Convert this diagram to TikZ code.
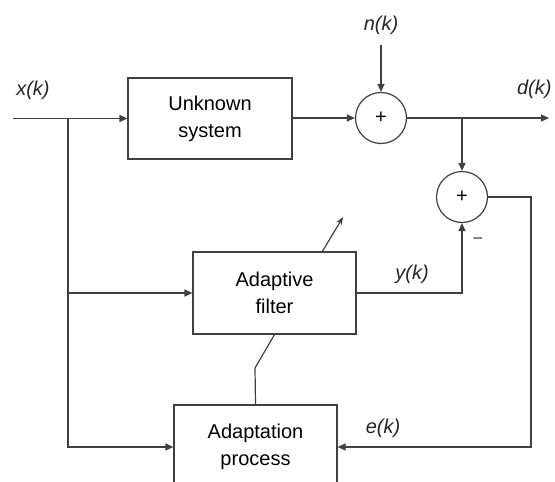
\documentclass[tikz,border=0pt]{standalone}
\usepackage{fontspec}
\setmainfont{Liberation Sans}
\usetikzlibrary{arrows.meta}
\begin{document}
\begin{tikzpicture}[x=1pt,y=-1pt,
  ln/.style={draw=black!75,line width=1.2pt},
  arr/.style={ln,-{Triangle[length=8pt,width=7pt]}},
  blk/.style={draw=black!75,line width=1.2pt,rectangle,inner sep=0pt,align=center,font=\fontsize{20}{27}\selectfont},
  sumc/.style={draw=black!75,line width=1.2pt,circle,minimum size=51pt,inner sep=0pt,font=\fontsize{20}{20}\selectfont},
  lbl/.style={font=\fontsize{20}{20}\selectfont\itshape,text=black!85}]
\useasboundingbox (0,0) rectangle (555,482);
\node[blk,minimum width=164pt,minimum height=81pt] (unk) at (210,118.5) {Unknown\\system};
\node[sumc] (s1) at (381,118) {+};
\node[sumc] (s2) at (462,197) {+};
\node[blk,minimum width=163pt,minimum height=82pt] (af) at (274.5,293) {Adaptive\\filter};
\node[blk,minimum width=163pt,minimum height=84pt] (ap) at (255.5,447) {Adaptation\\process};
\coordinate (xin) at (13,118.5);
\coordinate (b1) at (68,118.5);
\coordinate (nin) at (381,45);
\coordinate (dout) at (549,118);
\coordinate (b2) at (462,118);
\coordinate (c1) at (531,447);
\coordinate (k1) at (255,368);
\coordinate (t0) at (322,252);
\coordinate (t1) at (343,217);
\node[lbl] (xl) at (33,90) {x(k)};
\node[lbl] (nl) at (381,25) {n(k)};
\node[lbl,anchor=east] (dl) at (555,89) {d(k)};
\node[lbl] (yl) at (412,274) {y(k)};
\node[lbl] (el) at (383,428) {e(k)};
\node[font=\fontsize{18}{18}\selectfont,text=black!75] (mn) at (478,241) {\textminus};
\draw[arr] (xin) -- (unk.west);
\draw[arr] (b1) |- (af.west);
\draw[arr] (b1) |- (ap.west);
\draw[arr] (unk.east |- s1) -- (s1.west);
\draw[arr] (nin) -- (s1.north);
\draw[arr] (s1.east) -- (dout);
\draw[arr] (b2) -- (s2.north);
\draw[arr] (af.east) -| (s2.south);
\draw[arr] (s2.east) -| (c1) -- (ap.east);
\draw[ln] (af.south) -- (k1) -- (ap.north);
\draw[ln,-{Stealth[length=8pt,width=6pt]}] (t0) -- (t1);
\end{tikzpicture}
\end{document}
